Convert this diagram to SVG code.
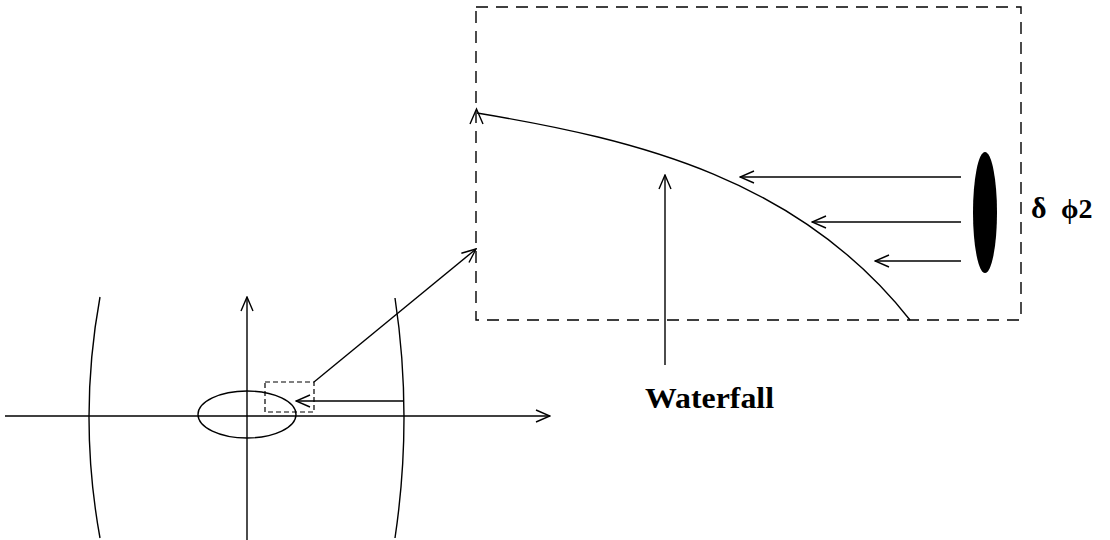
<svg xmlns="http://www.w3.org/2000/svg" width="1110" height="540" viewBox="0 0 1110 540">
<style>
.ln{fill:none;stroke:#000;stroke-width:1.4}
.dash{fill:none;stroke:#000;stroke-width:1.4;stroke-dasharray:12 8}
.sdash{fill:none;stroke:#000;stroke-width:1.2;stroke-dasharray:5 3}
.txt{font-family:"Liberation Serif","Times New Roman",serif;fill:#000}
</style>
<defs>
<marker id="ah" markerWidth="16" markerHeight="14" refX="15" refY="7" orient="auto" markerUnits="userSpaceOnUse">
<path d="M1,1 L15,7 L1,13" fill="none" stroke="#000" stroke-width="1.4"/>
</marker>
</defs>
<rect width="1110" height="540" fill="#fff"/>
<g id="axes">
<line class="ln" x1="5" y1="416" x2="550" y2="416" marker-end="url(#ah)"/>
<line class="ln" x1="247" y1="540" x2="247" y2="297" marker-end="url(#ah)"/>
</g>
<g id="left-arc"><path class="ln" d="M100,297 Q78,417 100,538"/></g>
<g id="right-arc"><path class="ln" d="M395,298 Q413,417 395,538"/></g>
<g id="ellipse"><ellipse class="ln" cx="247" cy="414.5" rx="49" ry="23.5"/></g>
<g id="small-box"><rect class="sdash" x="265" y="382" width="49" height="30"/></g>
<g id="zoom-box"><rect class="dash" x="476" y="7" width="545" height="313"/></g>
<g id="blob"><ellipse cx="985" cy="212.5" rx="12" ry="60.5" fill="#000"/></g>
<g id="waterfall-curve">
<path class="ln" d="M477,113 C640,140 800,180 910,320"/>
<path class="ln" d="M470,124 L476.5,109 L483,124"/>
</g>
<g id="connectors">
<line class="ln" x1="404" y1="401" x2="296" y2="401" marker-end="url(#ah)"/>
<line class="ln" x1="314" y1="382" x2="476" y2="249" marker-end="url(#ah)"/>
<line class="ln" x1="961" y1="177" x2="740" y2="177" marker-end="url(#ah)"/>
<line class="ln" x1="961" y1="222" x2="812" y2="222" marker-end="url(#ah)"/>
<line class="ln" x1="961" y1="261" x2="875" y2="261" marker-end="url(#ah)"/>
<line class="ln" x1="665" y1="365" x2="665" y2="175" marker-end="url(#ah)"/>
</g>
<g id="labels">
<text class="txt" x="645" y="408" font-size="30" font-weight="bold" textLength="129" lengthAdjust="spacingAndGlyphs">Waterfall</text>
<text class="txt" x="1031" y="218" font-size="30" font-weight="bold">δ</text>
<text class="txt" x="1061" y="218" font-size="28" font-weight="bold">ϕ2</text>
</g>
</svg>
